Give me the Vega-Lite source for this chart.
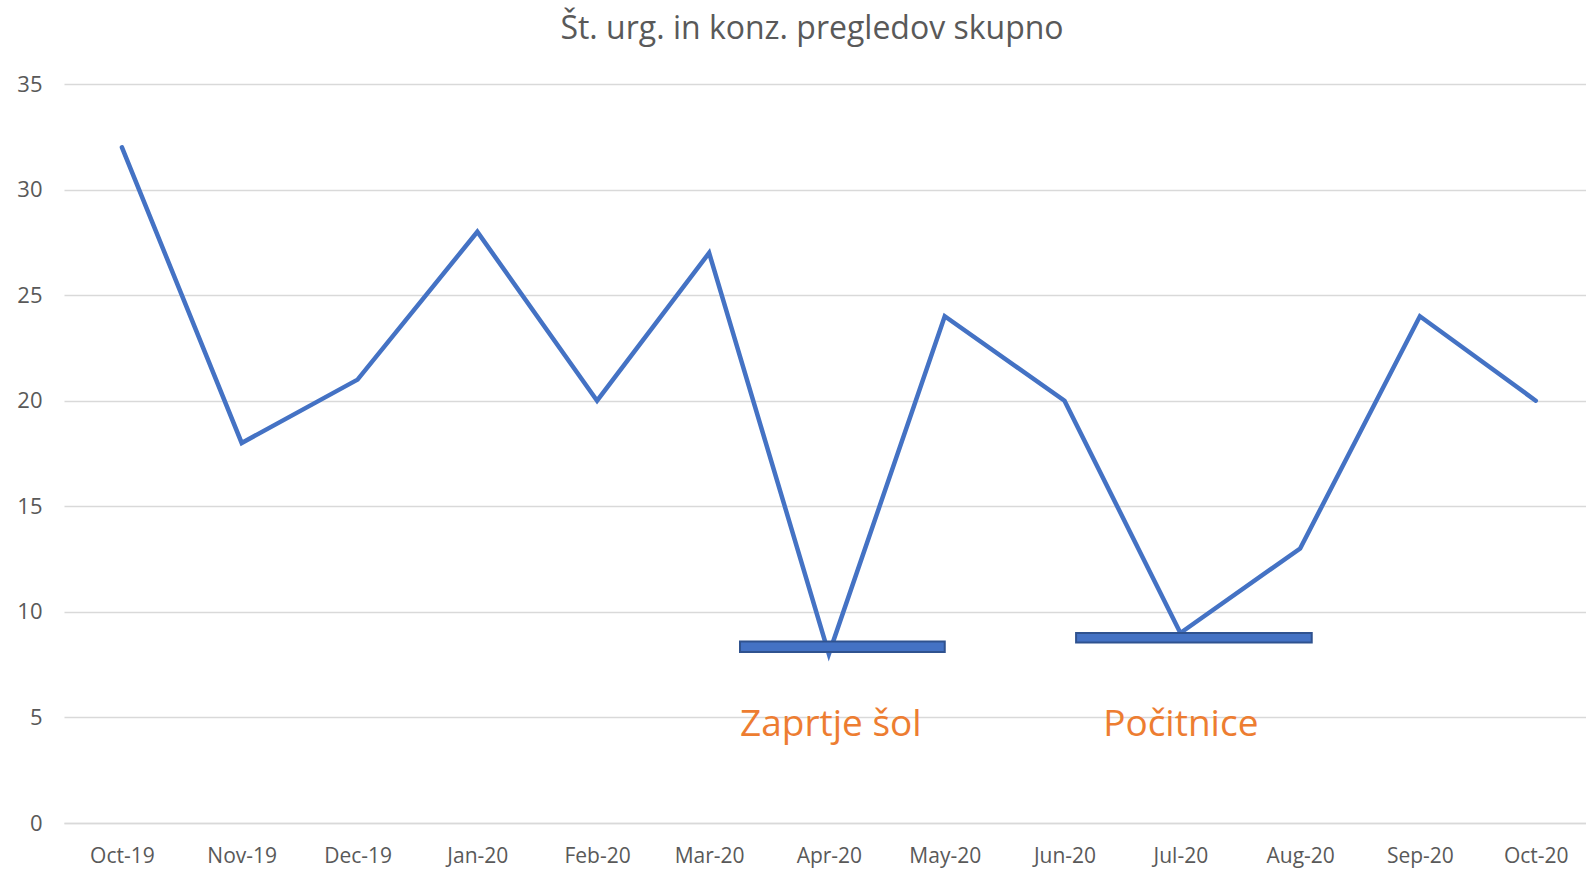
{
  "$schema": "https://vega.github.io/schema/vega-lite/v6.json",
  "width": 1522,
  "height": 739,
  "autosize": "none",
  "padding": {"left": 64, "top": 84, "right": 0, "bottom": 46},
  "background": "white",
  "config": {"view": {"stroke": null}, "font": "Open Sans"},
  "title": {
    "text": "Št. urg. in konz. pregledov skupno",
    "frame": "group",
    "anchor": "middle",
    "dx": -13,
    "offset": 2,
    "baseline": "alphabetic",
    "font": "Open Sans",
    "fontSize": 32,
    "fontWeight": "normal",
    "color": "#595959"
  },
  "datasets": {
    "main": [
      {"month": "2019-10-01", "count": 32},
      {"month": "2019-11-01", "count": 18},
      {"month": "2019-12-01", "count": 21},
      {"month": "2020-01-01", "count": 28},
      {"month": "2020-02-01", "count": 20},
      {"month": "2020-03-01", "count": 27},
      {"month": "2020-04-01", "count": 8},
      {"month": "2020-05-01", "count": 24},
      {"month": "2020-06-01", "count": 20},
      {"month": "2020-07-01", "count": 9},
      {"month": "2020-08-01", "count": 13},
      {"month": "2020-09-01", "count": 24},
      {"month": "2020-10-01", "count": 20}
    ],
    "periods": [
      {"start": "2020-03-09", "end": "2020-05-01", "low": 8.1, "high": 8.6},
      {"start": "2020-06-04", "end": "2020-08-04", "low": 8.55, "high": 9.0}
    ],
    "notes": [
      {"date": "2020-03-09", "level": 4.1, "label": "Zaprtje šol"},
      {"date": "2020-06-11", "level": 4.1, "label": "Počitnice"}
    ]
  },
  "encoding": {
    "x": {
      "field": "month",
      "type": "temporal",
      "scale": {
        "type": "utc",
        "domain": [
          {"year": 2019, "month": 9, "date": 16, "utc": true},
          {"year": 2020, "month": 10, "date": 14, "utc": true}
        ]
      },
      "axis": {
        "title": null,
        "format": "%b-%y",
        "tickCount": {"interval": "month", "step": 1},
        "grid": false,
        "ticks": false,
        "domainColor": "#D9D9D9",
        "domainWidth": 1.5,
        "labelColor": "#595959",
        "labelFont": "Open Sans",
        "labelFontSize": 21,
        "labelPadding": 22,
        "labelOverlap": false,
        "labelFlush": false
      }
    },
    "y": {
      "field": "count",
      "type": "quantitative",
      "scale": {"domain": [0, 35], "nice": false},
      "axis": {
        "title": null,
        "values": [0, 5, 10, 15, 20, 25, 30, 35],
        "grid": true,
        "gridColor": "#D9D9D9",
        "gridWidth": 1.5,
        "domain": false,
        "ticks": false,
        "labelColor": "#595959",
        "labelFont": "Open Sans",
        "labelFontSize": 22,
        "labelPadding": 22
      }
    }
  },
  "layer": [
    {
      "data": {"name": "main"},
      "mark": {"type": "line", "color": "#4472C4", "strokeWidth": 4.5, "strokeJoin": "miter", "strokeCap": "round"}
    },
    {
      "data": {"name": "periods"},
      "mark": {"type": "rect", "fill": "#4472C4", "stroke": "#2F528F", "strokeWidth": 2},
      "encoding": {
        "x": {"field": "start", "type": "temporal"},
        "x2": {"field": "end"},
        "y": {"field": "low", "type": "quantitative"},
        "y2": {"field": "high"}
      }
    },
    {
      "data": {"name": "notes"},
      "mark": {"type": "text", "color": "#ED7D31", "font": "Open Sans", "fontSize": 37, "align": "left", "baseline": "alphabetic"},
      "encoding": {
        "x": {"field": "date", "type": "temporal"},
        "y": {"field": "level", "type": "quantitative"},
        "text": {"field": "label"}
      }
    }
  ]
}
